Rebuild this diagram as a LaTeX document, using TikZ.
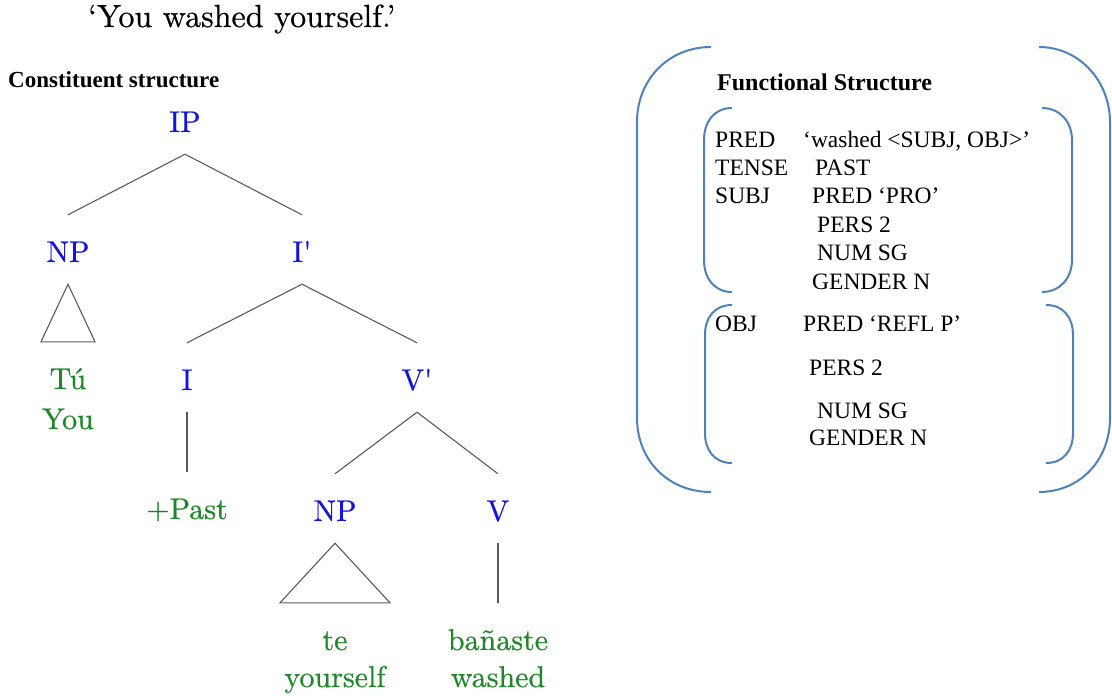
\documentclass[tikz,border=0pt]{standalone}
\usepackage{fontspec}
\newfontfamily\tnr{Liberation Serif}
\newfontfamily\treefont{lmroman10-regular}[Extension=.otf, FakeBold=0.5]
\usetikzlibrary{calc}
\definecolor{treeblue}{RGB}{20,20,225}
\definecolor{treegreen}{RGB}{30,135,40}
\definecolor{branch}{RGB}{90,90,90}
\definecolor{brk}{RGB}{79,129,189}
\begin{document}
\begin{tikzpicture}[x=1pt,y=-1pt,
  lab/.style={inner sep=0, anchor=base, text height=47pt, text depth=22pt, font=\treefont\fontsize{30}{34}\selectfont},
  cat/.style={lab, text=treeblue},
  word/.style={lab, text=treegreen},
  gloss/.style={inner sep=0, anchor=base, text=treegreen, font=\treefont\fontsize{30}{34}\selectfont},
  br/.style={draw=branch, line width=1.1pt},
  bracket/.style={draw=brk, line width=2pt},
  fs/.style={inner sep=0, anchor=base west, font=\tnr\fontsize{23.5}{28}\selectfont},
  head/.style={inner sep=0, anchor=base west, font=\tnr\bfseries\fontsize{23}{28}\selectfont}]
\useasboundingbox (0,0) rectangle (1112,696);

% title
\node[inner sep=0, anchor=base west, font=\treefont\fontsize{32}{36}\selectfont] (title) at (88,27) {‘You washed yourself.’};
\node[head] (cs) at (8,87) {Constituent structure};

% tree
\node[cat] (IP) at (185,132) {IP};
\node[cat] (NPa) at (68,262) {NP};
\node[cat] (Ib) at (302,262) {I\textquotesingle};
\node[word] (Tu) at (68,389) {Tú};
\node[gloss] (You) at (68,429) {You};
\node[cat] (I) at (187,390) {I};
\node[cat] (Vb) at (417,390) {V\textquotesingle};
\node[word] (Past) at (187,519) {+Past};
\node[cat] (NPb) at (335,521) {NP};
\node[cat] (V) at (498,521) {V};
\node[word] (te) at (335,650) {te};
\node[gloss] (yourself) at (335,687) {yourself};
\node[word] (banaste) at (498,650) {bañaste};
\node[gloss] (washed) at (498,687) {washed};

\draw[br] (IP.south) -- (NPa.north);
\draw[br] (IP.south) -- (Ib.north);
\draw[br] (NPa.south) -- ($(Tu.north)+(-27,0)$) -- ($(Tu.north)+(27,0)$) -- cycle;
\draw[br] (Ib.south) -- (I.north);
\draw[br] (Ib.south) -- (Vb.north);
\draw[br] (I.south) -- (Past.north);
\draw[br] (Vb.south) -- (NPb.north);
\draw[br] (Vb.south) -- (V.north);
\draw[br] (NPb.south) -- ($(te.north)+(-55,0)$) -- ($(te.north)+(55,0)$) -- cycle;
\draw[br] (V.south) -- (banaste.north);

% functional structure
\node[head, font=\tnr\bfseries\fontsize{24}{28}\selectfont] (fsh) at (717,90) {Functional Structure};
\node[fs] (f1a) at (715,147) {PRED};
\node[fs] (f1b) at (803,147) {‘washed <SUBJ, OBJ>’};
\node[fs] (f2a) at (715,175) {TENSE};
\node[fs] (f2b) at (815,175) {PAST};
\node[fs] (f3a) at (715,203) {SUBJ};
\node[fs] (f3b) at (812,203) {PRED ‘PRO’};
\node[fs] (f4) at (817,232) {PERS 2};
\node[fs] (f5) at (817,260) {NUM SG};
\node[fs] (f6) at (812,289) {GENDER N};
\node[fs] (o1a) at (715,331) {OBJ};
\node[fs] (o1b) at (803,331) {PRED ‘REFL P’};
\node[fs] (o2) at (809,375) {PERS 2};
\node[fs] (o3) at (817,418) {NUM SG};
\node[fs] (o4) at (809,445) {GENDER N};

% brackets
\draw[bracket] (711,47) .. controls (668,47) and (637,80) .. (637,122) -- (637,418) .. controls (637,460) and (668,492) .. (711,492);
\draw[bracket] (1039,47) .. controls (1080,47) and (1110,82) .. (1110,122) -- (1110,418) .. controls (1110,460) and (1080,492) .. (1039,492);
\draw[bracket] (732,108) .. controls (714,108) and (704,122) .. (704,140) -- (704,260) .. controls (704,278) and (714,292) .. (732,292);
\draw[bracket] (1042,108) .. controls (1060,108) and (1072,122) .. (1072,140) -- (1072,260) .. controls (1072,278) and (1060,292) .. (1042,292);
\draw[bracket] (732,305) .. controls (714,305) and (705,318) .. (705,335) -- (705,433) .. controls (705,450) and (714,463) .. (732,463);
\draw[bracket] (1046,305) .. controls (1064,305) and (1073,318) .. (1073,335) -- (1073,433) .. controls (1073,450) and (1064,463) .. (1046,463);
\end{tikzpicture}
\end{document}
